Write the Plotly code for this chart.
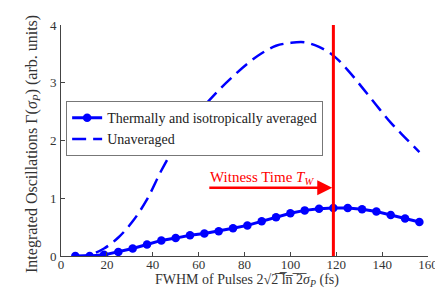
import plotly.graph_objects as go

fwhm = [6.25 * k for k in range(1, 26)]
averaged = [0.0, 0.0, 0.02, 0.07, 0.13, 0.20, 0.27, 0.31, 0.36, 0.39, 0.43, 0.48, 0.53,
            0.60, 0.67, 0.74, 0.79, 0.82, 0.83, 0.83, 0.81, 0.77, 0.71, 0.65, 0.59]
unaveraged = [0.0, 0.02, 0.13, 0.32, 0.60, 0.98, 1.48, 1.92, 2.29, 2.60, 2.87, 3.11, 3.33,
              3.51, 3.64, 3.69, 3.70, 3.62, 3.47, 3.22, 2.92, 2.61, 2.31, 2.05, 1.80]
witness_time = 118.75
arrow_start = 64
arrow_y = 1.18

x_title = "FWHM of Pulses 2√2̅ ̅l̅n̅ ̅2̅<i>σ</i><sub><i>P</i></sub> (fs)"
y_title = "Integrated Oscillations Γ(<i>σ</i><sub><i>P</i></sub>) (arb. units)"

FONT = "Liberation Serif"
BLUE = "#0000ff"
RED = "#ff0000"
TXT = "#333"

fig = go.Figure()
fig.add_trace(go.Scatter(x=fwhm, y=averaged, mode="lines+markers",
                         name="Thermally and isotropically averaged",
                         line=dict(color=BLUE, width=3),
                         marker=dict(color=BLUE, size=8.5)))
fig.add_trace(go.Scatter(x=fwhm, y=unaveraged, mode="lines", name="Unaveraged",
                         line=dict(color=BLUE, width=2.5, dash="14px,7px", shape="spline")))
fig.add_trace(go.Scatter(x=[witness_time, witness_time], y=[0, 4], mode="lines",
                         line=dict(color=RED, width=3), showlegend=False))

fig.add_annotation(x=witness_time - 0.5, y=arrow_y, ax=arrow_start, ay=arrow_y,
                   xref="x", yref="y", axref="x", ayref="y", showarrow=True,
                   arrowhead=2, arrowsize=1.2, arrowwidth=2.5, arrowcolor=RED, text="")
fig.add_annotation(x=arrow_start, y=arrow_y, xref="x", yref="y", xanchor="left",
                   yanchor="bottom", yshift=-1, showarrow=False,
                   text="Witness Time <i>T</i><sub><i>W</i></sub>",
                   font=dict(family=FONT, size=15, color=RED))

# axis titles
fig.add_annotation(x=0.507, y=-0.104, xref="paper", yref="paper", xanchor="center",
                   yanchor="middle", showarrow=False, text=x_title,
                   font=dict(family=FONT, size=14, color=TXT))
fig.add_annotation(x=-0.0763, y=0.485, xref="paper", yref="paper", xanchor="center",
                   yanchor="middle", showarrow=False, text=y_title, textangle=-90,
                   font=dict(family=FONT, size=16, color=TXT))

axis_common = dict(showline=True, linecolor="#444", linewidth=1, ticks="inside",
                   ticklen=4, tickcolor="#444", showgrid=False, zeroline=False,
                   automargin=False,
                   tickfont=dict(family=FONT, size=13, color=TXT))
fig.update_layout(
    width=435, height=280,
    margin=dict(l=53, r=15, t=17, b=32),
    plot_bgcolor="white", paper_bgcolor="white",
    xaxis=dict(range=[0, 160], dtick=20, ticklabelstandoff=-4, **axis_common),
    yaxis=dict(range=[0, 4], dtick=1, ticklabelstandoff=1, **axis_common),
    legend=dict(x=0.014, y=0.67, xanchor="left", yanchor="top", bgcolor="white",
                bordercolor="#777", borderwidth=1, font=dict(family=FONT, size=14, color="#222"),
                itemwidth=30, tracegroupgap=0),
    showlegend=True,
)
fig.write_html("out.html")
